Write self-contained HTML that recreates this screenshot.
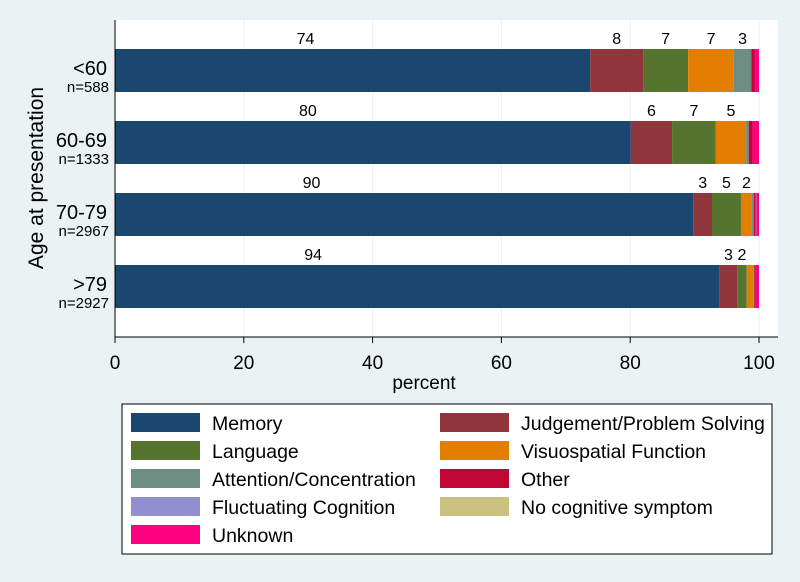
<!DOCTYPE html>
<html><head><meta charset="utf-8"><style>
body{margin:0;background:#eaf2f3;}
svg{display:block;font-family:"Liberation Sans",Arial,sans-serif;}
</style></head><body>
<svg width="800" height="582" viewBox="0 0 800 582">
<rect x="0" y="0" width="800" height="582" fill="#eaf2f3"/>
<rect x="115" y="20" width="663" height="317" fill="#ffffff"/>
<g id="grid"></g>
<g id="bars"></g>
<g id="labels"></g>
<line x1="115" y1="20" x2="115" y2="337" stroke="#000" stroke-width="1"/>
<line x1="115" y1="337" x2="778" y2="337" stroke="#000" stroke-width="1"/>
<g id="xticks"></g>
<text x="424" y="389" font-size="19" text-anchor="middle">percent</text>
<text transform="translate(43,178) rotate(-90)" font-size="21" text-anchor="middle">Age at presentation</text>
<g id="ycats"></g>
<rect x="122" y="404" width="650" height="150" fill="#fff" stroke="#000" stroke-width="1"/>
<g id="legend"></g>
</svg>
<script>
const categories = ["<60","60-69","70-79",">79"];
const ns = ["n=588","n=1333","n=2967","n=2927"];
const seriesNames = ["Memory","Judgement/Problem Solving","Language","Visuospatial Function","Attention/Concentration","Other","Fluctuating Cognition","No cognitive symptom","Unknown"];
const colors = ["#1a476f","#90353b","#55752f","#e37e00","#6e8e84","#c10534","#938dd2","#cac27e","#ff007f"];
const memory = [73.8,80.1,89.8,93.9];
const judgement = [8.2,6.4,2.9,2.7];
const language = [7.0,6.8,4.5,1.5];
const visuo = [7.1,4.7,1.7,1.0];
const attention = [2.7,0.4,0.3,0.2];
const other = [0.5,0.6,0.3,0.2];
const fluct = [0,0,0.1,0];
const nocog = [0,0,0,0];
const unknown = [0.7,1.0,0.4,0.5];
const xTicks = [0,20,40,60,80,100];
const series = [memory,judgement,language,visuo,attention,other,fluct,nocog,unknown];
const NS="http://www.w3.org/2000/svg";
const X = v => 115 + v*6.44;
const Y = i => 49 + i*72;
const BH = 43;
function mk(tag, attrs, parent){const e=document.createElementNS(NS,tag);for(const k in attrs)e.setAttribute(k,attrs[k]);parent.appendChild(e);return e;}
const grid=document.getElementById('grid'), bars=document.getElementById('bars'), labels=document.getElementById('labels'), xt=document.getElementById('xticks'), yc=document.getElementById('ycats'), lg=document.getElementById('legend');
xTicks.forEach(t=>{
  if(t>0){const g=mk('line',{x1:X(t),x2:X(t),y1:20,y2:337,stroke:'#eaf2f3','stroke-width':1},grid);
  
  }
  const tk=mk('line',{x1:X(t),x2:X(t),y1:337,y2:343,stroke:'#000'},xt);
  
  
  const tl=mk('text',{x:X(t),y:369,'font-size':19,'text-anchor':'middle'},xt);tl.textContent=t;
  
  
});
categories.forEach((c,i)=>{
  let acc=0;
  series.forEach((s,j)=>{
    const v=s[i];
    if(v>0){
      const r=mk('rect',{x:X(acc),y:Y(i),width:v*6.44,height:BH,fill:colors[j]},bars);
      
      
      if(Math.round(v)>=2){
        const cx = j===0 ? X(acc+v*0.4) - (v-74)*2.2 : X(acc+v/2);
        const t=mk('text',{x:cx,y:Y(i)-5,'font-size':16,'text-anchor':'middle'},labels);
        t.textContent=Math.round(v);
        
        
      }
    }
    acc+=v;
  });
  const a=mk('text',{x:107,y:Y(i)+26,'font-size':20,'text-anchor':'end'},yc);a.textContent=c;
  
  
  const b=mk('text',{x:109,y:Y(i)+43,'font-size':15,'text-anchor':'end'},yc);b.textContent=ns[i];
  
  
});
seriesNames.forEach((n,j)=>{
  const col=j%2, row=Math.floor(j/2);
  const sx=col?440:131, ty=413+row*28;
  const g=mk('g',{},lg);
  
  
  mk('rect',{x:sx,y:ty,width:69,height:19,fill:colors[j]},g);
  const t=mk('text',{x:sx+81,y:ty+17,'font-size':19.5},g);t.textContent=n;
});
</script>
</body></html>
